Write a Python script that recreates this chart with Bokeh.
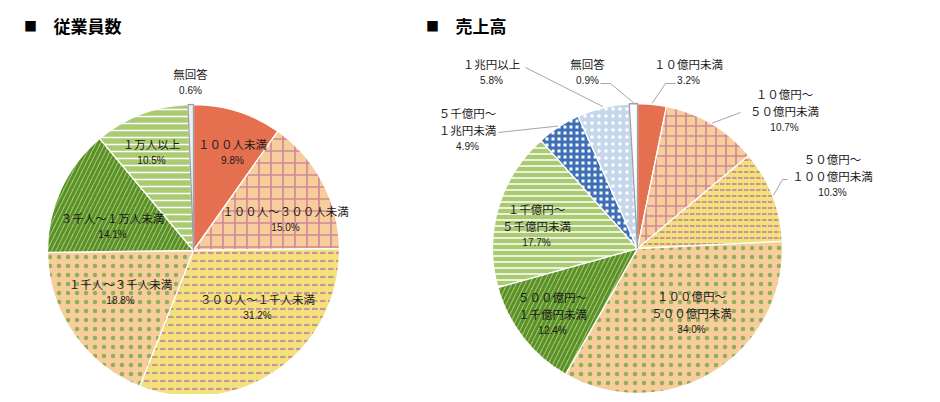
import math
from bokeh.plotting import figure
from bokeh.models import ColumnDataSource, Range1d
from bokeh.core.properties import value
from bokeh.embed import file_html
from bokeh.resources import INLINE

# ---------------- data ----------------
emp_titles = "従業員数"
emp_cats = ["１００人未満", "１００人～３００人未満", "３００人～１千人未満", "１千人～３千人未満",
            "３千人～１万人未満", "１万人以上", "無回答"]
emp_vals = [9.8, 15.0, 31.2, 18.8, 14.1, 10.5, 0.6]

sales_title = "売上高"
sales_cats = ["１０億円未満", "１０億円～\n５０億円未満", "５０億円～\n１００億円未満", "１００億円～\n５００億円未満",
              "５００億円～\n１千億円未満", "１千億円～\n５千億円未満", "５千億円～\n１兆円未満", "１兆円以上", "無回答"]
sales_vals = [3.2, 10.7, 10.3, 34.0, 12.4, 17.7, 4.9, 5.8, 0.9]

# ---------------- styles / layout ----------------
RED, PEACH, PINK, YELLOW = "#E5704F", "#F6CD9B", "#CE8896", "#EFE37A"
LGREEN, MGREEN, DGREEN, CHEV = "#AACB72", "#A3C665", "#5A902C", "#4E9A2E"
BLUE, LBLUE, NAFILL = "#3D6FB6", "#C6D7EC", "#ECEFF3"

emp_style = [  # fill, hatch, hatch_color, scale, weight, hatch alpha, line
    (RED, " ", RED, 8, 1, 1.0, "white"),
    (PEACH, "cross", PINK, 12, 1.6, 1.0, "white"),
    (YELLOW, "horizontal_dash", "#D48EA0", 8, 2.2, 1.0, "white"),
    (PEACH, "dot", CHEV, 9, 0.4, 0.6, "white"),
    (MGREEN, "right_diagonal_line", DGREEN, 9, 3.0, 1.0, "white"),
    (LGREEN, "horizontal_line", "white", 7, 1.5, 1.0, "white"),
    (NAFILL, " ", NAFILL, 8, 1, 1.0, "#9AA0A8"),
]
sales_style = [
    (RED, " ", RED, 8, 1, 1.0, "white"),
    (PEACH, "cross", PINK, 10, 1.6, 1.0, "white"),
    (YELLOW, "horizontal_dash", "#D48EA0", 6, 2.0, 1.0, "white"),
    (PEACH, "dot", CHEV, 9, 0.4, 0.6, "white"),
    (MGREEN, "right_diagonal_line", DGREEN, 9, 3.0, 1.0, "white"),
    (LGREEN, "horizontal_line", "white", 6, 1.5, 1.0, "white"),
    ("white", "cross", BLUE, 6, 3.0, 1.0, "white"),
    (LBLUE, "dot", "white", 7, 1.0, 1.0, "white"),
    ("white", " ", "white", 8, 1, 1.0, "#9AA0A8"),
]

# label offsets from the pie centre, in pixels (x right, y down): first line centre
emp_lab = [(39, -107), (92, -40), (64, 48), (-73, 33), (-81, -33), (-42, -107), (-3, -177)]
sales_lab = [(51, -185), (147, -155), (195, -90), (54, 47), (-85, 48), (-101, -40),
             (-170, -136), (-146, -185), (-50, -185)]
# leader line points (offsets from centre) for outside labels
sales_leaders = {0: [(28, -165), (38, -165)], 1: [(103, -136)], 2: [(145, -69), (150, -69)],
                 6: [(-139, -116)], 7: [(-112, -181)], 8: [(-27, -165), (-37, -165)]}

W, H = 932, 394
LINE_H = 17

def px(x):
    return x

def py(y):
    return H - y

p = figure(width=W, height=H, x_range=Range1d(0, W), y_range=Range1d(0, H),
           output_backend="svg", toolbar_location=None, min_border=0)
p.axis.visible = False
p.grid.visible = False
p.outline_line_color = None
p.background_fill_color = "white"

JP = value("Noto Sans CJK JP")
NUM = value("Liberation Sans")

def draw_pie(cx, cy, r, cats, vals, styles, labs, leaders):
    total = sum(vals)
    cum = 0.0
    starts, ends, mids = [], [], []
    for v in vals:
        f0, f1 = cum / total, (cum + v) / total
        cum += v
        starts.append(math.pi / 2 - 2 * math.pi * f1)
        ends.append(math.pi / 2 - 2 * math.pi * f0)
        mids.append(2 * math.pi * (f0 + f1) / 2)  # clockwise from top
    src = ColumnDataSource(dict(
        x=[px(cx)] * len(vals), y=[py(cy)] * len(vals),
        s=starts, e=ends,
        fill=[s[0] for s in styles], hatch=[s[1] for s in styles],
        hcol=[s[2] for s in styles], hscale=[s[3] for s in styles],
        hweight=[s[4] for s in styles], halpha=[s[5] for s in styles],
        lcol=[s[6] for s in styles]))
    p.wedge(x="x", y="y", radius=r, start_angle="s", end_angle="e", direction="anticlock",
            fill_color="fill", hatch_pattern="hatch", hatch_color="hcol",
            hatch_scale="hscale", hatch_weight="hweight", hatch_alpha="halpha",
            line_color="lcol", line_width=1.3, source=src)
    # leader lines
    xs, ys = [], []
    for i, pts in leaders.items():
        a = mids[i]
        ex, ey = cx + (r + 1) * math.sin(a), cy - (r + 1) * math.cos(a)
        lx = [px(ex)] + [px(cx + dx) for dx, dy in pts]
        ly = [py(ey)] + [py(cy + dy) for dx, dy in pts]
        xs.append(lx)
        ys.append(ly)
    if xs:
        p.multi_line(xs=xs, ys=ys, line_color="#A6A6A6", line_width=1)
    # labels
    nx, ny, nt, qx, qy, qt = [], [], [], [], [], []
    for cat, v, (dx, dy) in zip(cats, vals, labs):
        lines = cat.split("\n")
        for k, ln in enumerate(lines):
            nx.append(px(cx + dx)); ny.append(py(cy + dy + k * LINE_H)); nt.append(ln)
        qx.append(px(cx + dx)); qy.append(py(cy + dy + len(lines) * LINE_H)); qt.append(f"{v:.1f}%")
    p.text(x=nx, y=ny, text=nt, text_align="center", text_baseline="middle",
           text_font=JP, text_font_size="11.5px", text_color="#1a1a1a")
    p.text(x=qx, y=qy, text=qt, text_align="center", text_baseline="middle",
           text_font=NUM, text_font_size="10px", text_color="#1a1a1a")

draw_pie(193, 250, 146, emp_cats, emp_vals, emp_style, emp_lab, {})
draw_pie(637, 248, 145, sales_cats, sales_vals, sales_style, sales_lab, sales_leaders)

# titles
p.text(x=[px(30), px(432)], y=[py(25), py(25)], text=["■", "■"], text_align="center",
       text_baseline="middle", text_font=JP, text_font_size="13px", text_color="black")
p.text(x=[px(53), px(455)], y=[py(25), py(25)], text=[emp_titles, sales_title], text_align="left",
       text_baseline="middle", text_font=JP, text_font_size="17px", text_font_style="bold",
       text_color="black")

open("out.html", "w").write(file_html(p, INLINE))
